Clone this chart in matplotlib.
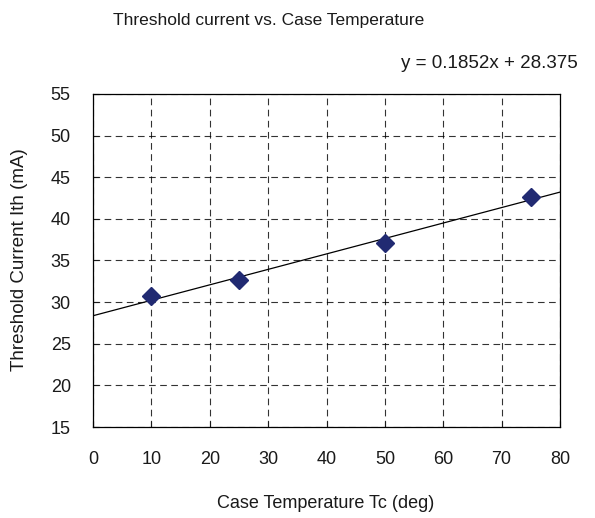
import numpy as np
import matplotlib
matplotlib.use("Agg")
import matplotlib.pyplot as plt

plt.rcParams['font.family'] = ['Liberation Sans', 'DejaVu Sans']

temps = [10, 25, 50, 75]
ith = [30.72, 32.6, 37.16, 42.68]
x_ticks = [0, 10, 20, 30, 40, 50, 60, 70, 80]
y_ticks = [15, 20, 25, 30, 35, 40, 45, 50, 55]
title = "Threshold current vs. Case Temperature"
equation = "y = 0.1852x + 28.375"
xlabel = "Case Temperature Tc (deg)"
ylabel = "Threshold Current Ith (mA)"

W, H = 595, 518
fig = plt.figure(figsize=(W / 100, H / 100), dpi=100)
L, R, T, B = 93, 560, 94, 427
ax = fig.add_axes([L / W, 1 - B / H, (R - L) / W, (B - T) / H])

ax.set_xlim(0, 80)
ax.set_ylim(15, 55)
ax.set_xticks(x_ticks)
ax.set_yticks(y_ticks)
ax.grid(True, color='black', linestyle=(0, (6, 4)), linewidth=0.8, alpha=0.8)
ax.set_axisbelow(True)
for s in ax.spines.values():
    s.set_color('black')
    s.set_linewidth(0.9)
ax.tick_params(axis='both', direction='in', length=4, width=0.8, labelsize=13,
               colors='#1a1a1a')
ax.tick_params(axis='x', pad=17)
ax.tick_params(axis='y', pad=16)

coef = np.polyfit(temps, ith, 1)
xs = np.array([0, 80])
ax.plot(xs, np.polyval(coef, xs), color='black', linewidth=0.9, zorder=3)
ax.plot(temps, ith, linestyle='none', marker='D', markersize=9.5,
        color='#212a72', markeredgecolor='#212a72', zorder=4)

fig.text(269 / W, 1 - 20 / H, title, ha='center', va='center', fontsize=12.5, color='#1a1a1a')
fig.text(578 / W, 1 - 64 / H, equation, ha='right', va='center', fontsize=13.5, color='#1a1a1a')
fig.text(326 / W, 1 - 504 / H, xlabel, ha='center', va='center', fontsize=13, color='#1a1a1a')
fig.text(20 / W, 1 - 260 / H, ylabel, ha='center', va='center', rotation=90, fontsize=13.5, color='#1a1a1a')

fig.savefig('out.png', dpi=100)
